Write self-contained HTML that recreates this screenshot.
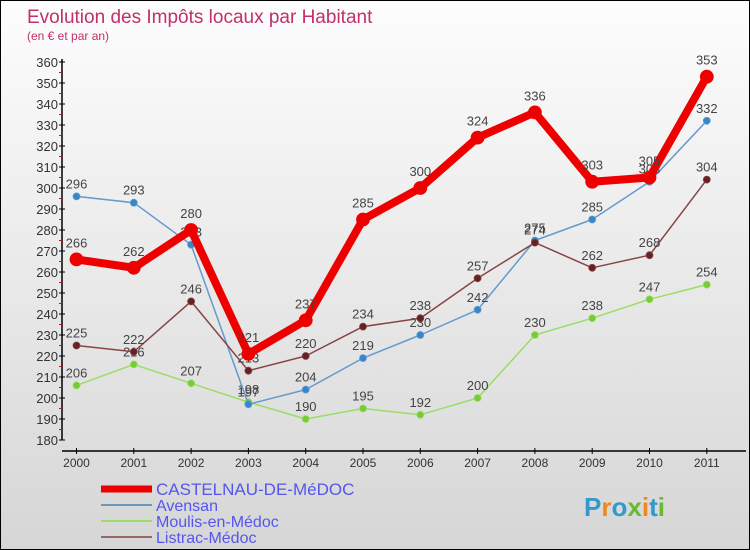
<!DOCTYPE html>
<html><head><meta charset="utf-8"><style>
body{margin:0}
#wrap{width:748px;height:548px;border:1px solid #000;background:linear-gradient(#fdfdfd,#d6d6d6);position:relative;overflow:hidden;font-family:"Liberation Sans",sans-serif}
svg{position:absolute;left:0;top:0}
</style></head><body>
<div id="wrap">
<svg id="c" width="750" height="550">
<text x="26" y="22" font-size="19" fill="#c0306a">Evolution des Impôts locaux par Habitant</text>
<text x="26" y="39" font-size="12" fill="#c0306a">(en € et par an)</text>
</svg>
</div>
<script>
const years=["2000","2001","2002","2003","2004","2005","2006","2007","2008","2009","2010","2011"];
const castelnau=[266,262,280,221,237,285,300,324,336,303,305,353];
const avensan=[296,293,273,197,204,219,230,242,275,285,303,332];
const moulis=[206,216,207,198,190,195,192,200,230,238,247,254];
const listrac=[225,222,246,213,220,234,238,257,274,262,268,304];
const yTicks=[180,190,200,210,220,230,240,250,260,270,280,290,300,310,320,330,340,350,360];
const NS="http://www.w3.org/2000/svg";
const svg=document.getElementById('c');
const X=i=>75.5+i*57.3;
const Y=v=>439-(v-180)*2.1;
function el(t,a,p){const e=document.createElementNS(NS,t);for(const k in a)e.setAttribute(k,a[k]);(p||svg).appendChild(e);return e;}
let ax=el('line',{x1:61,y1:58,x2:61,y2:439,stroke:'#000','stroke-width':1.5});


let bx=el('line',{x1:61,y1:450,x2:745,y2:450,stroke:'#000','stroke-width':1.5});


yTicks.forEach(v=>{
 el('line',{x1:58,x2:64,y1:Y(v),y2:Y(v),stroke:'#000'});
 if(v<360)el('line',{x1:58,x2:61,y1:Y(v+5),y2:Y(v+5),stroke:'#e00'});
 const t=el('text',{x:57,y:Y(v)+5,'font-size':13,fill:'#333','text-anchor':'end'});
 t.textContent=v;
 
 
});
years.forEach((y,i)=>{
 el('line',{x1:X(i),x2:X(i),y1:447,y2:453,stroke:'#000'});
 const t=el('text',{x:X(i),y:466,'font-size':12,fill:'#333','text-anchor':'middle'});
 t.textContent=y;
 
 
});
function series(data,color,w,r,dot,name,off){
 const g=el('g',{});
 
 
 el('polyline',{points:data.map((v,i)=>X(i)+','+Y(v)).join(' '),fill:'none',stroke:color,'stroke-width':w,'stroke-linejoin':'round'},g);
 data.forEach((v,i)=>{
  const c=el('circle',{cx:X(i),cy:Y(v),r:r,fill:dot,stroke:color,'stroke-width':0.8},g);
  
  
  const t=el('text',{x:X(i),y:Y(v)-off,'font-size':13,fill:'#444','text-anchor':'middle'},g);
  t.textContent=v;
  
  
 });
}
series(moulis,'#99dd66',1.5,3.5,'#77cc33','series-moulis',8);
series(avensan,'#6699cc',1.5,3.5,'#3388cc','series-avensan',8);
series(listrac,'#884444',1.5,3.5,'#662222','series-listrac',8);
series(castelnau,'#ee0000',8,6.5,'#ee0000','series-castelnau',12);
const leg=[['CASTELNAU-DE-MéDOC','#ee0000',7,17],['Avensan','#6699bb',2,16],['Moulis-en-Médoc','#99dd66',2,16],['Listrac-Médoc','#996666',2,16]];
const ys=[492,508,524,540];
leg.forEach((l,i)=>{
 const g=el('g',{});
 
 
 el('line',{x1:100,x2:151,y1:ys[i]-4,y2:ys[i]-4,stroke:l[1],'stroke-width':l[2]},g);
 const t=el('text',{x:155,y:ys[i]+2,'font-size':l[3],fill:'#5555ee'},g);
 t.textContent=l[0];
});
const p=el('text',{x:583,y:515,'font-size':26,'font-weight':'bold',fill:'#3399cc'});


const cols=['#3399cc','#ee8822','#3399cc','#66bb33','#ee8822','#3399cc','#66bb33'];
'Proxiti'.split('').forEach((ch,i)=>{const s=el('tspan',{fill:cols[i]},p);s.textContent=ch;});
</script>
</body></html>
